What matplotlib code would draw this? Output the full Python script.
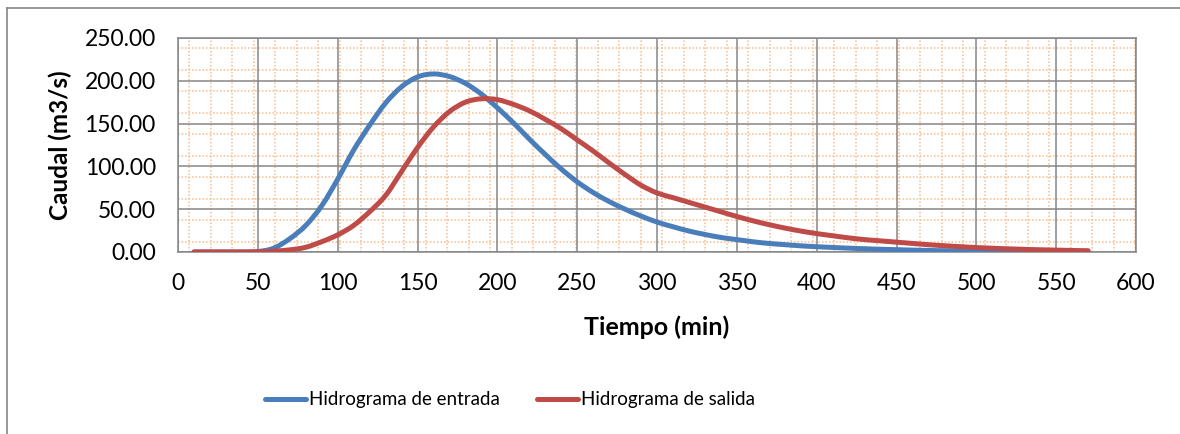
import matplotlib
matplotlib.use("Agg")
import matplotlib.pyplot as plt
from matplotlib.lines import Line2D
from matplotlib.path import Path
from matplotlib.patches import PathPatch
from matplotlib.ticker import FormatStrFormatter

# tiempo (min) and caudales (m3/s)
tiempo = [10, 20, 30, 40, 50, 60, 70, 80, 90, 100, 110, 120, 130, 140, 150,
          160, 170, 180, 190, 200, 210, 220, 230, 240, 250, 260, 270, 280,
          290, 300, 310, 320, 330, 340, 350, 360, 370, 380, 390, 400, 410,
          420, 430, 440, 450, 460, 470, 480, 490, 500, 510, 520, 530, 540,
          550, 560, 570]
q_entrada = [0, 0, 0, 0, 0.5, 4.5, 15.5, 31, 54, 85, 119, 148, 174, 193, 204.5,
             208, 205, 197, 184.5, 168.5, 151, 132, 114, 97, 82, 69.5, 59, 50,
             42, 35, 29.5, 24.5, 20.5, 17, 14.5, 12, 10, 8.6, 7.2, 6.2, 5.3,
             4.5, 3.8, 3.2, 2.7, 2.2, 1.8, 1.5, 1.2, 0.9, 0.8, 0.6, 0.5, 0.4,
             0.3, 0.3, 0.2]
q_salida = [0, 0, 0, 0, 0.2, 1, 2.5, 5.5, 12, 20, 31, 47, 66, 94, 122,
            146, 164, 175, 179, 178, 172.5, 165, 155, 144, 131, 118, 104, 90.5,
            78, 69, 63.5, 58, 52.5, 47, 41.5, 36.5, 32, 28, 24.5, 21.5, 19,
            16.5, 14.5, 13, 11.5, 10, 8.5, 7.3, 6.2, 5.2, 4.4, 3.7, 3.1, 2.6,
            2.2, 1.8, 1.5]
x_ticks = list(range(0, 601, 50))
y_ticks = [0, 50, 100, 150, 200, 250]

azul = "#4A7EBB"
rojo = "#BE4B48"
gris = "#868686"

plt.rcParams["font.family"] = ["Lato", "DejaVu Sans"]


def smooth_path(xs, ys):
    # Excel-like smoothed line: Catmull-Rom segments as cubic Beziers
    pts = list(zip(xs, ys))
    verts = [pts[0]]
    codes = [Path.MOVETO]
    n = len(pts)
    for i in range(n - 1):
        p0 = pts[i - 1] if i > 0 else pts[i]
        p1 = pts[i]
        p2 = pts[i + 1]
        p3 = pts[i + 2] if i + 2 < n else pts[i + 1]
        c1 = (p1[0] + (p2[0] - p0[0]) / 6, p1[1] + (p2[1] - p0[1]) / 6)
        c2 = (p2[0] - (p3[0] - p1[0]) / 6, p2[1] - (p3[1] - p1[1]) / 6)
        verts += [c1, c2, p2]
        codes += [Path.CURVE4] * 3
    return Path(verts, codes)


W, H = 1180, 434
fig = plt.figure(figsize=(W / 100, H / 100), dpi=100)
x0, x1, y0, y1 = 178, 1136, 38, 252
ax = fig.add_axes([x0 / W, 1 - y1 / H, (x1 - x0) / W, (y1 - y0) / H])

# patterned plot area (Excel "dotted grid" fill, fixed pixel spacing)
pw, ph = x1 - x0, y1 - y0
px = 189
while px < x1:
    f = (px - x0) / pw
    ax.plot([f, f], [0, 1], transform=ax.transAxes, color="#F9C090", lw=1.4,
            ls=(0, (0.8, 1.0)), alpha=0.8, zorder=0.5)
    px += 21.5
py = 48
while py < y1:
    f = 1 - (py - y0) / ph
    ax.plot([0, 1], [f, f], transform=ax.transAxes, color="#F9C090", lw=1.4,
            ls=(0, (0.8, 1.0)), alpha=0.8, zorder=0.5)
    py += 21.5

for ys, c in [(q_entrada, azul), (q_salida, rojo)]:
    ax.add_patch(PathPatch(smooth_path(tiempo, ys), fill=False, edgecolor=c,
                           lw=3.6, capstyle="round", joinstyle="round",
                           zorder=3))

ax.set_xlim(0, 600)
ax.set_ylim(0, 250)
ax.set_xticks(x_ticks)
ax.set_yticks(y_ticks)
ax.yaxis.set_major_formatter(FormatStrFormatter("%.2f"))
ax.grid(True, color=gris, lw=1.1, zorder=1)
ax.set_axisbelow(True)
for s in ax.spines.values():
    s.set_color(gris)
    s.set_linewidth(1.1)
ax.tick_params(length=0, labelsize=16.5, colors="black")
ax.tick_params(axis="x", pad=15)
ax.tick_params(axis="y", pad=16)

fig.text(60 / W, 1 - 145 / H, "Caudal (m3/s)", rotation=90, ha="center",
         va="center", fontsize=17.5, fontweight="bold")
fig.text(657 / W, 1 - 327 / H, "Tiempo (min)", ha="center", va="center",
         fontsize=18, fontweight="bold")

handles = [Line2D([], [], color=azul, lw=3.6, solid_capstyle="round"),
           Line2D([], [], color=rojo, lw=3.6, solid_capstyle="round")]
fig.legend(handles, ["Hidrograma de entrada", "Hidrograma de salida"],
           loc="center", bbox_to_anchor=(510 / W, 1 - 400 / H), ncol=2,
           frameon=False, fontsize=13.5, handlelength=2.2, handletextpad=0.15,
           columnspacing=2.0)

# outer chart border (only left and top visible)
fig.add_artist(Line2D([7 / W, 7 / W], [0, 1 - 8 / H], color=gris, lw=1.2))
fig.add_artist(Line2D([7 / W, 1], [1 - 8 / H, 1 - 8 / H], color=gris, lw=1.2))

fig.savefig("out.png", dpi=100)
